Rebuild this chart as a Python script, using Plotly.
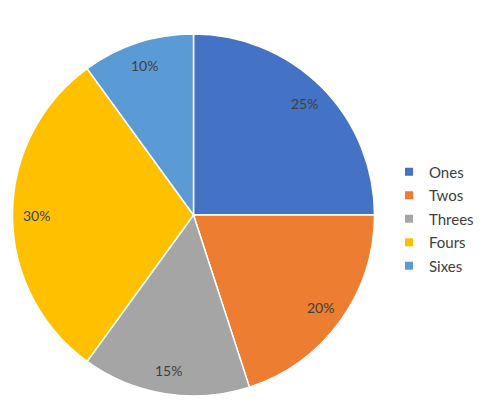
import math

import plotly.graph_objects as go

LABELS = ["Ones", "Twos", "Threes", "Fours", "Sixes"]
SHARES = [25, 20, 15, 30, 10]
COLORS = ["#4472C4", "#ED7D31", "#A5A5A5", "#FFC000", "#5B9BD5"]

# the page body adds an 8px margin, so the figure is sized to the visible area
WIDTH, HEIGHT = 477, 405
FONT = "Lato, Open Sans, sans-serif"
INK = "#404040"

# pie domain in paper fractions
DOM_X = [4 / WIDTH, 367 / WIDTH]
DOM_Y = [(HEIGHT - 388) / HEIGHT, (HEIGHT - 26) / HEIGHT]

fig = go.Figure(
    go.Pie(
        labels=LABELS,
        values=SHARES,
        sort=False,
        direction="clockwise",
        rotation=0,
        marker=dict(colors=COLORS, line=dict(color="white", width=1.5)),
        textinfo="none",
        hoverinfo="label+percent",
        domain=dict(x=DOM_X, y=DOM_Y),
        showlegend=False,
    )
)

# legend entries as empty square-marker traces so their spacing can be set
for label, color in zip(LABELS, COLORS):
    fig.add_trace(
        go.Scatter(
            x=[None],
            y=[None],
            mode="markers",
            name=label,
            legendgroup=label,
            marker=dict(symbol="square", size=8, color=color),
        )
    )

# percentage labels placed along each slice's bisector, like Excel's best fit
cx = (DOM_X[0] + DOM_X[1]) / 2 * WIDTH
cy = (DOM_Y[0] + DOM_Y[1]) / 2 * HEIGHT
radius = min((DOM_X[1] - DOM_X[0]) * WIDTH, (DOM_Y[1] - DOM_Y[0]) * HEIGHT) / 2
total = sum(SHARES)
cum = 0
for share in SHARES:
    mid = (cum + share / 2) / total
    cum += share
    theta = 2 * math.pi * mid
    px = cx + 0.87 * radius * math.sin(theta)
    py = cy + 0.87 * radius * math.cos(theta)
    fig.add_annotation(
        x=px / WIDTH,
        y=py / HEIGHT,
        xref="paper",
        yref="paper",
        xanchor="center",
        yanchor="middle",
        text=f"{share / total:.0%}",
        showarrow=False,
        font=dict(family=FONT, size=14, color=INK),
    )

fig.update_layout(
    width=WIDTH,
    height=HEIGHT,
    margin=dict(l=0, r=0, t=0, b=0),
    paper_bgcolor="white",
    plot_bgcolor="white",
    font=dict(family=FONT, color=INK),
    xaxis=dict(visible=False),
    yaxis=dict(visible=False),
    legend=dict(
        x=(409 - 8 - 20) / WIDTH,
        y=(HEIGHT - (219 - 8)) / HEIGHT,
        xanchor="left",
        yanchor="middle",
        font=dict(family=FONT, size=15, color=INK),
        itemwidth=30,
        tracegroupgap=1,
        borderwidth=0,
    ),
)

fig.write_html("out.html")
